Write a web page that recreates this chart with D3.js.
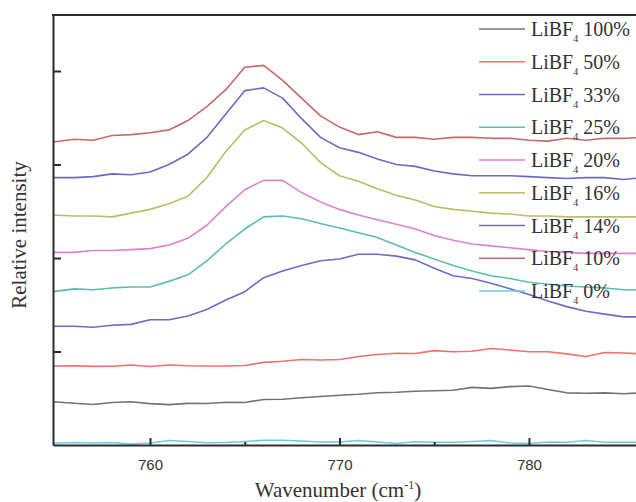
<!DOCTYPE html>
<html>
<head>
<meta charset="utf-8">
<script src="https://cdn.jsdelivr.net/npm/d3@7"></script>
<style>
  html, body { margin: 0; padding: 0; background: #fff; }
  svg { display: block; }
</style>
</head>
<body>
<svg id="chart" width="636" height="502"></svg>
<script>
// ---- data ----
const wavenumbers = [754.9, 756, 757, 758, 759, 760, 761, 762, 763, 764, 765, 766, 767, 768, 769, 770,
  771, 772, 773, 774, 775, 776, 777, 778, 779, 780, 781, 782, 783, 784, 785, 786];

const seriesNames = ["100%", "50%", "33%", "25%", "20%", "16%", "14%", "10%", "0%"];
const seriesColors = ["#737373", "#f36e6e", "#6b6bc6", "#5dbcb4", "#d982d2", "#bcbc66", "#6b6bc6", "#c46a6a", "#6ccbe0"];

const v100 = [0.463, 0.446, 0.433, 0.455, 0.463, 0.443, 0.432, 0.445, 0.444, 0.458, 0.455, 0.487, 0.490, 0.505, 0.518, 0.532,
  0.542, 0.559, 0.564, 0.575, 0.581, 0.585, 0.616, 0.606, 0.624, 0.631, 0.593, 0.558, 0.553, 0.558, 0.548, 0.559];
const v50 = [0.845, 0.847, 0.841, 0.843, 0.856, 0.840, 0.856, 0.848, 0.845, 0.845, 0.850, 0.884, 0.895, 0.914, 0.909, 0.914,
  0.947, 0.968, 0.981, 0.979, 1.009, 0.998, 1.003, 1.032, 1.016, 0.998, 0.998, 0.975, 0.947, 0.989, 0.984, 0.973];
const v33 = [1.27, 1.27, 1.26, 1.28, 1.29, 1.34, 1.34, 1.38, 1.45, 1.55, 1.64, 1.79, 1.86, 1.92, 1.97, 1.99,
  2.04, 2.04, 2.02, 1.98, 1.89, 1.81, 1.78, 1.73, 1.67, 1.61, 1.54, 1.48, 1.43, 1.40, 1.37, 1.37];
const v25 = [1.64, 1.67, 1.66, 1.68, 1.69, 1.69, 1.75, 1.82, 1.97, 2.15, 2.31, 2.44, 2.45, 2.42, 2.37, 2.32,
  2.27, 2.22, 2.14, 2.06, 1.99, 1.92, 1.86, 1.81, 1.78, 1.74, 1.72, 1.70, 1.69, 1.68, 1.66, 1.66];
const v20 = [2.06, 2.06, 2.08, 2.08, 2.09, 2.10, 2.14, 2.21, 2.35, 2.55, 2.73, 2.83, 2.83, 2.70, 2.60, 2.52,
  2.46, 2.41, 2.36, 2.31, 2.24, 2.19, 2.15, 2.13, 2.11, 2.09, 2.07, 2.06, 2.05, 2.05, 2.05, 2.05];
const v16 = [2.46, 2.45, 2.45, 2.44, 2.48, 2.52, 2.58, 2.66, 2.86, 3.14, 3.37, 3.47, 3.39, 3.23, 3.02, 2.88,
  2.82, 2.74, 2.67, 2.62, 2.55, 2.52, 2.50, 2.48, 2.47, 2.45, 2.45, 2.44, 2.44, 2.44, 2.44, 2.44];
const v14 = [2.86, 2.86, 2.87, 2.90, 2.89, 2.92, 3.00, 3.11, 3.29, 3.54, 3.79, 3.82, 3.71, 3.49, 3.29, 3.18,
  3.13, 3.06, 3.00, 2.98, 2.93, 2.90, 2.88, 2.88, 2.88, 2.87, 2.86, 2.85, 2.86, 2.86, 2.84, 2.86];
const v10 = [3.24, 3.27, 3.26, 3.31, 3.32, 3.34, 3.37, 3.47, 3.62, 3.80, 4.04, 4.06, 3.90, 3.71, 3.52, 3.40,
  3.32, 3.35, 3.29, 3.29, 3.27, 3.29, 3.29, 3.28, 3.28, 3.26, 3.25, 3.28, 3.26, 3.28, 3.28, 3.29];
const v0 = [0.018, 0.027, 0.021, 0.027, 0.011, 0.021, 0.048, 0.037, 0.024, 0.027, 0.037, 0.051, 0.051, 0.043, 0.032, 0.032,
  0.048, 0.032, 0.016, 0.035, 0.029, 0.029, 0.037, 0.048, 0.021, 0.016, 0.032, 0.029, 0.048, 0.029, 0.029, 0.029];
const seriesValues = [v100, v50, v33, v25, v20, v16, v14, v10, v0];

const xMajorTicks = [760, 770, 780];
const xMinorTicks = [765, 775];
const yTicks = [1, 2, 3, 4];

// ---- layout ----
const svg = d3.select("#chart");
const mLeft = 53, mTop = 15, mBottom = 445, mRight = 636;

const x = d3.scaleLinear().domain([754.88, 785.65]).range([mLeft, mRight]);
const y = d3.scaleLinear().domain([0, 4.599]).range([mBottom, mTop]);

svg.append("defs").append("clipPath").attr("id", "clip")
  .append("rect").attr("x", mLeft).attr("y", mTop).attr("width", mRight - mLeft).attr("height", mBottom - mTop + 2);

// curves
const line = d3.line().x((d, i) => x(wavenumbers[i])).y(d => y(d));
const g = svg.append("g").attr("clip-path", "url(#clip)");
seriesValues.forEach((vals, k) => {
  g.append("path")
    .attr("d", line(vals))
    .attr("fill", "none")
    .attr("stroke", seriesColors[k])
    .attr("stroke-width", 1.6)
    .attr("stroke-linejoin", "round");
});

// axes
const axisColor = "#2b2b2b";
const xAxis = svg.append("g").attr("transform", `translate(0,${mBottom})`)
  .call(d3.axisBottom(x).tickValues(xMajorTicks).tickSizeInner(-7).tickSizeOuter(0).tickPadding(14));
xAxis.select(".domain").attr("stroke", axisColor).attr("stroke-width", 2);
xAxis.selectAll(".tick line").attr("stroke", axisColor).attr("stroke-width", 2);
xAxis.selectAll(".tick text").attr("font-family", "Arial, 'Liberation Sans', sans-serif").attr("font-size", 15).attr("fill", "#333");

const xMinor = svg.append("g").attr("transform", `translate(0,${mBottom})`)
  .call(d3.axisBottom(x).tickValues(xMinorTicks).tickSizeInner(-3).tickSizeOuter(0).tickFormat(""));
xMinor.select(".domain").remove();
xMinor.selectAll(".tick line").attr("stroke", axisColor).attr("stroke-width", 2);

const yAxis = svg.append("g").attr("transform", `translate(${mLeft},0)`)
  .call(d3.axisLeft(y).tickValues(yTicks).tickSizeInner(-8).tickSizeOuter(0).tickFormat(""));
yAxis.select(".domain").attr("stroke", axisColor).attr("stroke-width", 2);
yAxis.selectAll(".tick line").attr("stroke", axisColor).attr("stroke-width", 2);

// top border
svg.append("line").attr("x1", mLeft - 1).attr("x2", mRight).attr("y1", mTop).attr("y2", mTop)
  .attr("stroke", axisColor).attr("stroke-width", 2);

// axis titles
const serif = "'Times New Roman', 'Liberation Serif', 'DejaVu Serif', serif";
const xt = svg.append("text").attr("x", 338).attr("y", 497).attr("text-anchor", "middle")
  .attr("font-family", serif).attr("font-size", 21).attr("fill", "#333");
xt.append("tspan").text("Wavenumber (cm");
xt.append("tspan").attr("font-size", 12).attr("dy", -8).text("-1");
xt.append("tspan").attr("dy", 8).text(")");

svg.append("text").attr("transform", "translate(26,235) rotate(-90)").attr("text-anchor", "middle")
  .attr("font-family", serif).attr("font-size", 21).attr("fill", "#333").text("Relative intensity");

// legend
const legendY = d3.scaleLinear().domain([0, 8]).range([29, 291]);
const lg = svg.append("g");
seriesNames.forEach((name, k) => {
  const yy = legendY(k);
  lg.append("line").attr("x1", 479).attr("x2", 525).attr("y1", yy).attr("y2", yy)
    .attr("stroke", seriesColors[k]).attr("stroke-width", 1.6);
  const t = lg.append("text").attr("x", 531).attr("y", yy + 7)
    .attr("font-family", serif).attr("font-size", 20).attr("fill", "#333");
  t.append("tspan").text("LiBF");
  t.append("tspan").attr("font-size", 10).attr("dy", 6).text("4");
  t.append("tspan").attr("dy", -6).text("\u00a0" + name);
});
</script>
</body>
</html>
